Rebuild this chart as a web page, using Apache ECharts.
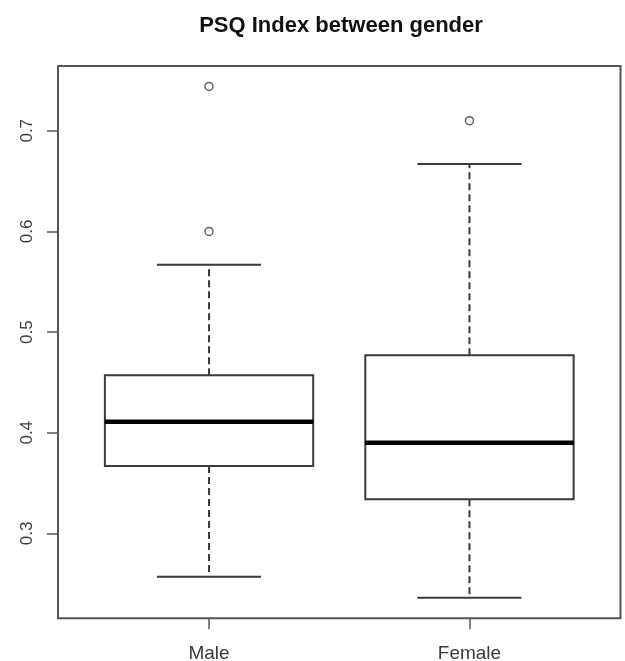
<!DOCTYPE html>
<html>
<head>
<meta charset="utf-8">
<script src="https://cdn.jsdelivr.net/npm/echarts@6/dist/echarts.min.js"></script>
<style>html,body{margin:0;padding:0;background:#fff;}#c{width:625px;height:661px;}</style>
</head>
<body>
<div id="c"></div>
<script>
// ---- data ----
const categories = ["Male", "Female"];
// [lower whisker, Q1, median, Q3, upper whisker]
const maleStats   = [0.257, 0.367, 0.411, 0.457, 0.567];
const femaleStats = [0.236, 0.334, 0.390, 0.477, 0.667];
const maleOutliers   = [0.744, 0.600];
const femaleOutliers = [0.710];
const yTicks = [0.3, 0.4, 0.5, 0.6, 0.7];
const titleText = "PSQ Index between gender";

const stats = [maleStats, femaleStats];
const outliers = [maleOutliers, femaleOutliers];
const boxData = stats.map((s, i) => [i + 1].concat(s));
const outlierData = [];
outliers.forEach((arr, i) => arr.forEach(v => outlierData.push([i + 1, v])));

const allVals = stats.flat().concat(outliers.flat());
const dMin = Math.min(...allVals), dMax = Math.max(...allVals);
const pad = (dMax - dMin) * 0.04;
const xPad = (categories.length) * 0.04;

const chart = echarts.init(document.getElementById('c'), null, {renderer: 'canvas'});
const lineCol = '#3a3a3a';
chart.setOption({
  animation: false,
  backgroundColor: '#fff',
  title: {
    text: titleText, left: 336, top: 10, textAlign: 'center',
    textStyle: {fontFamily: 'Liberation Sans, Arial, sans-serif', fontWeight: 'bold', fontSize: 22, color: '#111'}
  },
  grid: {left: 58, right: 4.5, top: 66, bottom: 42.7, show: true, borderColor: '#555', borderWidth: 2,
    backgroundColor: 'transparent', containLabel: false, outerBoundsMode: 'none'},
  xAxis: {
    type: 'value', min: 0.5 - xPad, max: categories.length + 0.5 + xPad,
    splitLine: {show: false},
    axisLine: {show: false},
    axisTick: {show: true, length: 11, inside: false, customValues: categories.map((c, i) => i + 1), lineStyle: {color: '#555', width: 1.5}},
    axisLabel: {show: true, customValues: categories.map((c, i) => i + 1), margin: 26,
      formatter: v => categories[Math.round(v) - 1] || '',
      fontFamily: 'Liberation Sans, Arial, sans-serif', fontSize: 19, color: '#3a3a3a'}
  },
  yAxis: {
    type: 'value', min: dMin - pad, max: dMax + pad,
    splitLine: {show: false},
    axisLine: {show: false},
    axisTick: {show: true, length: 11, inside: false, customValues: yTicks, lineStyle: {color: '#555', width: 1.5}},
    axisLabel: {show: true, customValues: yTicks, rotate: 90, margin: 22,
      formatter: v => v.toFixed(1),
      fontFamily: 'Liberation Sans, Arial, sans-serif', fontSize: 17, color: '#3a3a3a'}
  },
  series: [
    {
      type: 'custom',
      data: boxData,
      encode: {x: 0, y: [1, 2, 3, 4, 5]},
      renderItem: function (params, api) {
        const x = api.value(0);
        const lo = api.value(1), q1 = api.value(2), med = api.value(3), q3 = api.value(4), hi = api.value(5);
        const hb = 0.4, hc = 0.2;
        const tl = api.coord([x - hb, q3]);
        const br = api.coord([x + hb, q1]);
        const ml = api.coord([x - hb, med]), mr = api.coord([x + hb, med]);
        const c = api.coord([x, 0]);
        const yHi = api.coord([x, hi])[1], yLo = api.coord([x, lo])[1];
        const yQ3 = tl[1], yQ1 = br[1];
        const capL = api.coord([x - hc, hi])[0], capR = api.coord([x + hc, hi])[0];
        const solid = {stroke: lineCol, lineWidth: 2, fill: null};
        const dashed = {stroke: lineCol, lineWidth: 2, lineDash: [7, 4]};
        return {
          type: 'group',
          children: [
            {type: 'line', shape: {x1: c[0], y1: yQ3, x2: c[0], y2: yHi}, style: dashed},
            {type: 'line', shape: {x1: c[0], y1: yQ1, x2: c[0], y2: yLo}, style: dashed},
            {type: 'line', shape: {x1: capL, y1: yHi, x2: capR, y2: yHi}, style: solid},
            {type: 'line', shape: {x1: capL, y1: yLo, x2: capR, y2: yLo}, style: solid},
            {type: 'rect', shape: {x: tl[0], y: tl[1], width: br[0] - tl[0], height: br[1] - tl[1]}, style: {stroke: lineCol, lineWidth: 2, fill: '#fff'}},
            {type: 'line', shape: {x1: ml[0], y1: ml[1], x2: mr[0], y2: mr[1]}, style: {stroke: '#000', lineWidth: 4.5}}
          ]
        };
      }
    },
    {
      type: 'scatter',
      data: outlierData,
      symbol: 'circle',
      symbolSize: 8,
      itemStyle: {color: '#fff', borderColor: lineCol, borderWidth: 1.5}
    }
  ]
});
</script>
</body>
</html>
